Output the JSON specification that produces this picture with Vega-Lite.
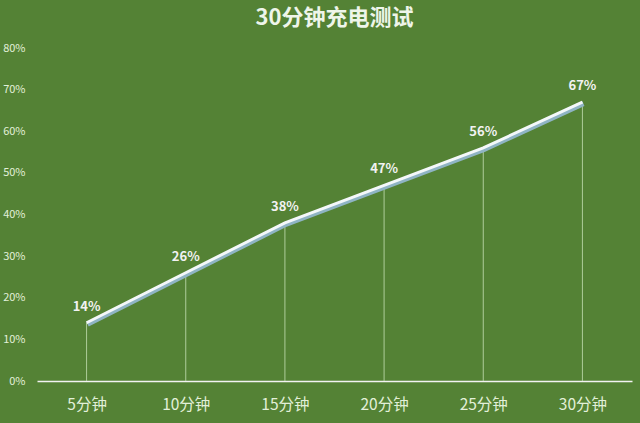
{
  "$schema": "https://vega.github.io/schema/vega-lite/v6.json",
  "autosize": "none",
  "width": 595,
  "height": 333,
  "padding": {"left": 37, "top": 48, "right": 8, "bottom": 42},
  "background": "#548235",
  "title": {
    "text": "30分钟充电测试",
    "font": "Noto Sans CJK SC",
    "fontSize": 22,
    "fontWeight": "bold",
    "color": "#eef5ea",
    "anchor": "middle",
    "offset": 12
  },
  "config": {
    "view": {"stroke": null},
    "font": "Noto Sans CJK SC"
  },
  "data": {
    "values": [
      {"t": "5分钟", "v": 0.14},
      {"t": "10分钟", "v": 0.26},
      {"t": "15分钟", "v": 0.38},
      {"t": "20分钟", "v": 0.47},
      {"t": "25分钟", "v": 0.56},
      {"t": "30分钟", "v": 0.67}
    ]
  },
  "encoding": {
    "x": {
      "field": "t",
      "type": "ordinal",
      "sort": null,
      "scale": {"type": "point", "padding": 0.5},
      "axis": {
        "title": null,
        "labelAngle": 0,
        "ticks": false,
        "domainColor": "#f2f2f2",
        "domainWidth": 1.5,
        "labelColor": "#e2f0d9",
        "labelFontSize": 15.5,
        "labelPadding": 16,
        "labelFont": "Noto Sans CJK SC"
      }
    },
    "y": {
      "field": "v",
      "type": "quantitative",
      "scale": {"domain": [0, 0.8]},
      "axis": {
        "title": null,
        "format": ".0%",
        "values": [0, 0.1, 0.2, 0.3, 0.4, 0.5, 0.6, 0.7, 0.8],
        "grid": false,
        "ticks": false,
        "domain": false,
        "labelColor": "#e2f0d9",
        "labelFontSize": 11,
        "labelPadding": 12,
        "labelFont": "Noto Sans CJK SC"
      }
    }
  },
  "layer": [
    {
      "mark": {"type": "rule", "color": "#c5e0b4", "strokeWidth": 1, "opacity": 0.8},
      "encoding": {"y2": {"datum": 0}}
    },
    {
      "mark": {"type": "line", "color": "#8fb4c4", "strokeWidth": 5, "xOffset": 1, "yOffset": 1.5},
      "encoding": {}
    },
    {
      "mark": {"type": "line", "color": "#f4f8fa", "strokeWidth": 3},
      "encoding": {}
    },
    {
      "mark": {"type": "text", "dy": -16, "fontSize": 13, "fontWeight": "bold", "color": "#f2f2f2", "font": "Noto Sans CJK SC"},
      "encoding": {"text": {"field": "v", "type": "quantitative", "format": ".0%"}}
    }
  ]
}
